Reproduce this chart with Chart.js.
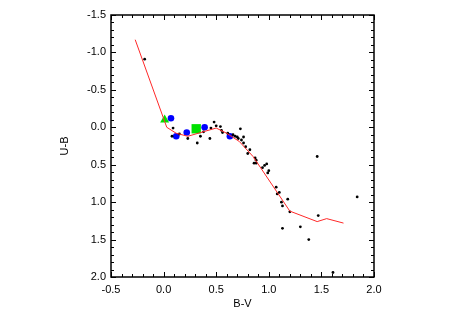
<!DOCTYPE html>
<html>
<head>
<meta charset="utf-8">
<script src="https://cdn.jsdelivr.net/npm/chart.js@4"></script>
<style>
  html, body { margin: 0; padding: 0; background: #fff; }
</style>
</head>
<body>
<canvas id="cmdChart" width="450" height="315"></canvas>
<script>
// intrinsic colour line (red)
var lineBV = [-0.27, 0.03, 0.12, 0.23, 0.50, 0.60, 0.72, 0.85, 1.20, 1.46, 1.55, 1.71];
var lineUB = [-1.17, 0.00, 0.08, 0.12, 0.01, 0.08, 0.19, 0.39, 1.12, 1.26, 1.22, 1.28];

// field stars (black dots)
var starBV = [-0.18, 0.09, 0.08, 0.15, 0.23, 0.32, 0.35, 0.38, 0.44, 0.45, 0.48, 0.50, 0.54, 0.55, 0.56,
              0.61, 0.66, 0.68, 0.70, 0.71, 0.73, 0.74, 0.76, 0.76, 0.78, 0.80, 0.82, 0.87, 0.88, 0.86,
              0.88, 0.94, 0.96, 0.98, 1.00, 0.99, 1.07, 1.10, 1.08, 1.18, 1.12, 1.13, 1.20, 1.13, 1.30,
              1.38, 1.47, 1.46, 1.84, 1.61];
var starUB = [-0.91, 0.01, 0.12, 0.09, 0.15, 0.21, 0.12, 0.06, 0.15, 0.01, -0.07, -0.02, -0.01, 0.04, 0.07,
              0.08, 0.10, 0.12, 0.13, 0.15, 0.02, 0.17, 0.21, 0.13, 0.26, 0.35, 0.30, 0.41, 0.44, 0.48,
              0.48, 0.54, 0.51, 0.49, 0.58, 0.61, 0.80, 0.87, 0.89, 0.96, 1.00, 1.05, 1.13, 1.35, 1.33,
              1.50, 1.18, 0.39, 0.93, 1.94];

// members (blue circles)
var memberBV = [0.07, 0.12, 0.22, 0.39, 0.63];
var memberUB = [-0.12, 0.12, 0.07, 0.00, 0.12];

// special objects
var triBV = [0.01];
var triUB = [-0.10];
var squareBV = [0.31];
var squareUB = [0.02];

function pairs(xs, ys) {
    return xs.map((x, i) => ({ x: x, y: ys[i] }));
}

// box with inward ticks on all four sides
var frame = {
    id: 'frame',
    beforeDatasetsDraw(chart) {
        var ctx = chart.ctx;
        var a = chart.chartArea;
        var xs = chart.scales.x, ys = chart.scales.y;
        ctx.save();
        ctx.strokeStyle = '#000';
        ctx.lineWidth = 1;
        ctx.beginPath();
        for (var i = -5; i <= 20; i++) {
            var px = Math.round(xs.getPixelForValue(i / 10)) + 0.5;
            var len = i % 5 === 0 ? 5 : 3;
            ctx.moveTo(px, a.bottom); ctx.lineTo(px, a.bottom - len);
            ctx.moveTo(px, a.top); ctx.lineTo(px, a.top + len);
        }
        for (var j = -15; j <= 20; j++) {
            var py = Math.round(ys.getPixelForValue(j / 10)) + 0.5;
            var len2 = j % 5 === 0 ? 5 : 3;
            ctx.moveTo(a.left, py); ctx.lineTo(a.left + len2, py);
            ctx.moveTo(a.right, py); ctx.lineTo(a.right - len2, py);
        }
        ctx.stroke();
        ctx.lineWidth = 1.5;
        ctx.strokeRect(a.left, a.top, a.right - a.left, a.bottom - a.top);
        ctx.restore();
    }
};

var tickFont = { family: 'Liberation Sans', size: 11 };

var ctx = document.getElementById('cmdChart').getContext('2d');
var chart = new Chart(ctx, {
    type: 'scatter',
    data: {
        datasets: [{
                label: 'line',
                data: pairs(lineBV, lineUB),
                showLine: true,
                borderColor: 'rgb(255,40,40)',
                borderWidth: 1,
                pointRadius: 0,
                tension: 0
            },
            {
                label: 'stars',
                data: pairs(starBV, starUB),
                backgroundColor: '#000',
                borderWidth: 0,
                pointRadius: 1.4
            },
            {
                label: 'members',
                data: pairs(memberBV, memberUB),
                backgroundColor: '#0000ff',
                borderWidth: 0,
                pointRadius: 3.3
            },
            {
                label: 'triangle',
                data: pairs(triBV, triUB),
                pointStyle: 'triangle',
                backgroundColor: 'rgb(0,225,0)',
                borderWidth: 0,
                pointRadius: 5.2
            },
            {
                label: 'square',
                data: pairs(squareBV, squareUB),
                pointStyle: 'rect',
                backgroundColor: 'rgb(0,225,0)',
                borderWidth: 0,
                pointRadius: 6.6
            }
        ]
    },
    options: {
        responsive: false,
        animation: false,
        layout: { padding: { top: 15, right: 76, left: 0, bottom: 0 } },
        plugins: {
            legend: { display: false },
            tooltip: { enabled: false }
        },
        scales: {
            x: {
                type: 'linear',
                min: -0.5,
                max: 2.0,
                grid: { display: false, drawTicks: false },
                border: { display: false },
                ticks: {
                    stepSize: 0.5,
                    padding: 6,
                    color: '#000',
                    font: tickFont,
                    callback: v => v.toFixed(1)
                },
                title: {
                    display: true,
                    text: 'B-V',
                    color: '#000',
                    font: tickFont,
                    padding: { top: 0, bottom: 4 }
                },
                afterFit: s => { s.height = 38; }
            },
            y: {
                type: 'linear',
                min: -1.5,
                max: 2.0,
                reverse: true,
                grid: { display: false, drawTicks: false },
                border: { display: false },
                ticks: {
                    stepSize: 0.5,
                    padding: 5,
                    color: '#000',
                    font: tickFont,
                    callback: v => v.toFixed(1)
                },
                title: {
                    display: true,
                    text: 'U-B',
                    color: '#000',
                    font: tickFont,
                    padding: { top: 58, bottom: 0 }
                },
                afterFit: s => { s.width = 111; }
            }
        }
    },
    plugins: [frame]
});
</script>
</body>
</html>
